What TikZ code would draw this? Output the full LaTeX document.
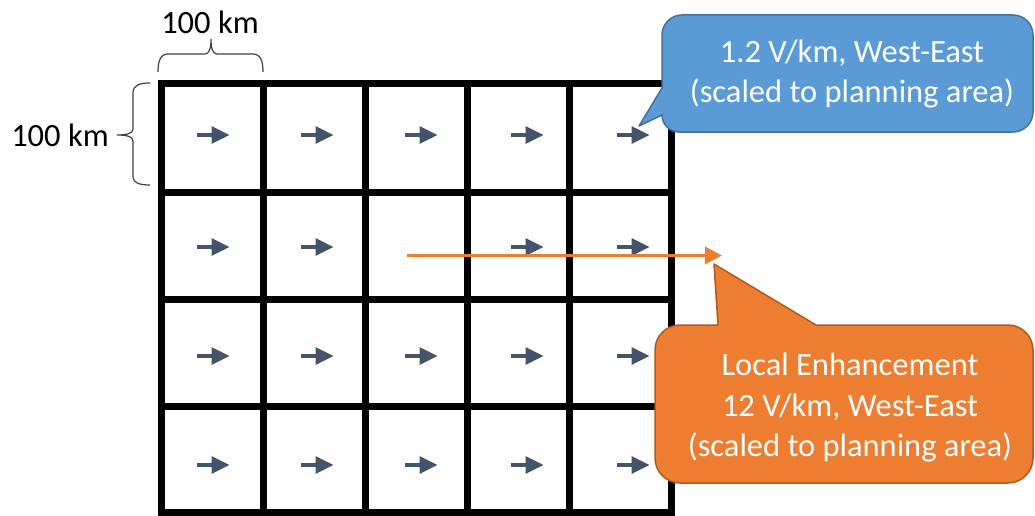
\documentclass[tikz,border=0pt]{standalone}
\usepackage{fontspec}
\setmainfont{Carlito}
\usetikzlibrary{arrows.meta}
\definecolor{gridarrow}{HTML}{44546A}
\definecolor{bluefill}{HTML}{5B9BD5}
\definecolor{blueedge}{HTML}{41719C}
\definecolor{orfill}{HTML}{ED7D31}
\definecolor{oredge}{HTML}{AE5A21}
\definecolor{bracecol}{HTML}{404040}
\tikzset{
  gridline/.style={line width=7pt, line cap=rect},
  bluecall/.style={fill=bluefill, draw=blueedge, line width=1.5pt, line join=round},
  orcall/.style={fill=orfill, draw=oredge, line width=1.5pt, line join=round},
  calltext/.style={text=white, align=center, font=\fontsize{32.5}{40.5}\selectfont},
  dimtext/.style={text=black, font=\fontsize{32.5}{38}\selectfont},
  bracestyle/.style={draw=bracecol, line width=1.2pt},
  enhance/.style={draw=orfill, line width=3.5pt, -{Triangle[length=17pt,width=17pt]}},
  pics/cellarrow/.style={code={
    \fill[gridarrow] (-15.7,-2.4) rectangle (-1,2.4);
    \fill[gridarrow] (-1.5,-9) -- (16.3,0) -- (-1.5,9) -- cycle;
  }}
}
\begin{document}
\begin{tikzpicture}[x=1pt,y=-1pt]
\useasboundingbox (0,0) rectangle (1035,516);
\fill[white] (0,0) rectangle (1035,516);
% grid
\foreach \gx in {161.5,263,365.5,467.5,569.5,671.5}
  \draw[gridline] (\gx,84) -- (\gx,512.5);
\foreach \gy in {84,192,299,406,512.5}
  \draw[gridline] (161.5,\gy) -- (671.5,\gy);
% cell arrows
\foreach \ry in {135,356,465}
  \foreach \cx in {213,317,421,527,633}
    \pic at (\cx,\ry) {cellarrow};
\foreach \cx in {213,317,527,633}
  \pic at (\cx,247) {cellarrow};
% local enhancement arrow
\coordinate (enhStart) at (407,255.5);
\coordinate (enhEnd) at (722,255.5);
\draw[enhance] (enhStart) -- (enhEnd);
% braces and dimension labels
\draw[bracestyle] (158,72) .. controls (158,62) and (160,54) .. (168,54) -- (205,54)
  .. controls (209,54) and (211,49) .. (211,39)
  .. controls (211,49) and (213,54) .. (217,54) -- (253,54)
  .. controls (261,54) and (263,62) .. (263,72);
\node[dimtext] (topdim) at (210,22) {100 km};
\draw[bracestyle] (150,83) .. controls (140,83) and (133,85) .. (133,93) -- (133,129)
  .. controls (133,133) and (128,135) .. (117,135)
  .. controls (128,135) and (133,137) .. (133,141) -- (133,177)
  .. controls (133,183) and (140,185) .. (150,185);
\node[dimtext] (leftdim) at (60,135) {100 km};
% blue callout
\draw[bluecall] (639,126) -- (662,88) -- (662,35)
  .. controls (662,24) and (671,15) .. (682,15) -- (1013,15)
  .. controls (1024,15) and (1033,24) .. (1033,35) -- (1033,112)
  .. controls (1033,123) and (1024,132) .. (1013,132) -- (679,132)
  .. controls (669.6,132) and (662,124.4) .. (662,115) -- cycle;
\node[calltext] (bluetext) at (852,74) {1.2 V/km, West-East\\(scaled to planning area)};
% orange callout
\draw[orcall] (714,264) -- (816,325) -- (1008,325)
  .. controls (1021.8,325) and (1033,336.2) .. (1033,350) -- (1033,458)
  .. controls (1033,471.8) and (1021.8,483) .. (1008,483) -- (680,483)
  .. controls (666.2,483) and (655,471.8) .. (655,458) -- (655,350)
  .. controls (655,336.2) and (666.2,325) .. (680,325) -- (718,325) -- cycle;
\node[calltext] (ortext) at (850,408) {Local Enhancement\\12 V/km, West-East\\(scaled to planning area)};
\end{tikzpicture}
\end{document}
